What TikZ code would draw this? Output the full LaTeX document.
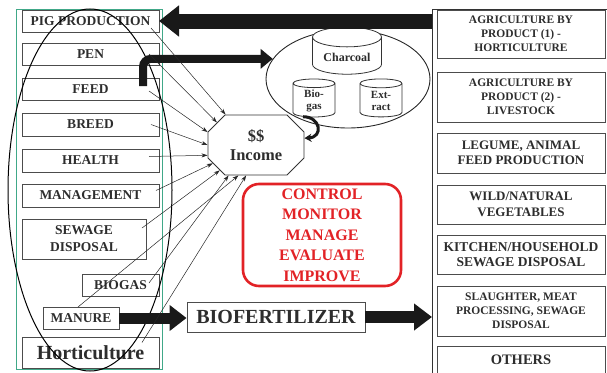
\documentclass[tikz,border=0pt]{standalone}
\usepackage{fontspec}
\setmainfont{Liberation Serif}
\usetikzlibrary{
    positioning,
    arrows.meta,
    shapes.geometric,
    shapes.misc
}

\definecolor{zonegreen}{RGB}{64,168,136}
\definecolor{alarmred}{RGB}{226,34,38}
\definecolor{labelgray}{RGB}{45,45,45}

\begin{document}
\begin{tikzpicture}[
    x=1pt, y=-1pt,
    farmbox/.style={rectangle, draw=black!70, line width=0.9pt, anchor=north west, minimum width=137pt, minimum height=22pt, inner sep=1pt, outer sep=0pt, align=center, text=labelgray, font=\fontsize{13.5}{17}\selectfont\bfseries},
    sourcebox/.style={rectangle, draw=black!70, line width=0.9pt, minimum width=168pt, inner sep=1pt, outer sep=0pt, align=center, text=labelgray, font=\fontsize{11.5}{14}\selectfont\bfseries},
    store/.style={cylinder, shape border rotate=90, draw=black!80, line width=0.8pt, fill=white, aspect=0.4, inner sep=1pt, align=center, text=labelgray, font=\fontsize{11}{12}\selectfont\bfseries},
    feeder/.style={-{Stealth[length=6pt, width=4pt]}, line width=0.5pt, draw=black!85},
    fatarrow/.style={draw=black!90}
]
\useasboundingbox (0,0) rectangle (607,372);

% frames
\node[draw=zonegreen, line width=1pt, anchor=north west, minimum width=146pt, minimum height=360pt, inner sep=0pt] (zone) at (16,9) {};
\node[draw=black!80, line width=1pt, anchor=north west, minimum width=180pt, minimum height=370pt, inner sep=0pt] (sources) at (432,9) {};

% pig farm side
\node[farmbox] (pig) at (22,10) {PIG PRODUCTION};
\node[farmbox, below=11pt of pig] (pen) {PEN};
\node[farmbox, below=13pt of pen] (feed) {FEED};
\node[farmbox, below=13pt of feed, minimum height=23pt] (breed) {BREED};
\node[farmbox, below=13pt of breed, minimum height=23pt] (health) {HEALTH};
\node[farmbox, below=12pt of health, minimum height=23pt] (mgmt) {MANAGEMENT};
\node[farmbox, minimum width=124pt, minimum height=40pt] (sewage) at (22,219) {SEWAGE\\DISPOSAL};
\node[farmbox, minimum width=77pt] (biogasbox) at (82,274) {BIOGAS};
\node[farmbox, minimum width=76pt] (manure) at (43,307) {MANURE};
\node[farmbox, minimum height=31pt, font=\fontsize{20}{22}\selectfont\bfseries] (hort) at (22,337) {Horticulture};
\node[draw, ellipse, line width=1pt, minimum width=164pt, minimum height=362pt] (cluster) at (90,190) {};

% sources side
\node[sourcebox, anchor=north west, minimum height=48pt] (src1) at (437,10) {AGRICULTURE BY\\PRODUCT (1) -\\HORTICULTURE};
\node[sourcebox, minimum height=50pt, below=14pt of src1] (src2) {AGRICULTURE BY\\PRODUCT (2) -\\LIVESTOCK};
\node[sourcebox, minimum height=40pt, below=11pt of src2, font=\fontsize{13}{15.5}\selectfont\bfseries] (src3) {LEGUME, ANIMAL\\FEED PRODUCTION};
\node[sourcebox, minimum height=39pt, below=12pt of src3, font=\fontsize{13}{15.5}\selectfont\bfseries] (src4) {WILD/NATURAL\\VEGETABLES};
\node[sourcebox, minimum height=39pt, below=11pt of src4, font=\fontsize{13.5}{15.5}\selectfont\bfseries] (src5) {KITCHEN/HOUSEHOLD\\SEWAGE DISPOSAL};
\node[sourcebox, minimum height=50pt, below=12pt of src5] (src6) {SLAUGHTER, MEAT\\PROCESSING, SEWAGE\\DISPOSAL};
\node[sourcebox, minimum height=28pt, below=10pt of src6, font=\fontsize{14.5}{16}\selectfont\bfseries] (src7) {OTHERS};

% middle
\node[draw=black!80, line width=0.9pt, chamfered rectangle, chamfered rectangle xsep=14pt, minimum width=96pt, minimum height=60pt, inner sep=1pt, align=center, text=labelgray, font=\fontsize{16.5}{19}\selectfont\bfseries] (income) at (256,145) {\$\$\\Income};
\node[draw=alarmred, text=alarmred, line width=2.6pt, rounded corners=16pt, minimum width=158pt, minimum height=102pt, inner sep=1pt, align=center, font=\fontsize{16}{20.5}\selectfont\bfseries] (control) at (322,235) {CONTROL\\MONITOR\\MANAGE\\EVALUATE\\IMPROVE};
\node[draw=black!70, line width=0.9pt, minimum width=178pt, minimum height=30pt, inner sep=1pt, text=labelgray, font=\fontsize{20}{22}\selectfont\bfseries] (biofert) at (276,317) {BIOFERTILIZER};
\node[draw=black!85, ellipse, line width=0.9pt, minimum width=164pt, minimum height=98pt] (bag) at (348,79) {};
\node[store, minimum width=69pt, minimum height=47pt, font=\fontsize{12}{13}\selectfont\bfseries] (charcoal) at (347,57) {Charcoal};
\node[store, minimum width=42pt, minimum height=38pt] (bio) at (314,101) {Bio-\\gas};
\node[store, minimum width=42pt, minimum height=38pt] (extract) at (381,101) {Ext-\\ract};

% big arrows
\draw[fatarrow, line width=15pt, -{Triangle[length=20pt, width=30pt]}] (sources.west |- pig.east) -- (pig.east);
\draw[fatarrow, line width=8pt, rounded corners=8pt, -{Triangle[length=12pt, width=19pt]}] ([xshift=-16pt, yshift=-8pt]feed.north east) |- (bag.165);
\draw[fatarrow, line width=11pt, -{Triangle[length=17pt, width=25pt]}] (manure.east) -- (manure.east -| biofert.west);
\draw[fatarrow, line width=12pt, -{Triangle[length=18pt, width=26pt]}] (biofert.east) -- (biofert.east -| sources.west);
\draw[fatarrow, line width=3pt, -{Stealth[length=7pt, width=8pt]}] (bio.-125) .. controls +(18,0) and +(19,-1) .. (income.8);

% thin feeders into income
\draw[feeder] ([xshift=-8pt, yshift=-7pt]pig.east) -- (income.135);
\draw[feeder] ([xshift=-10pt]pen.east) -- (income.150);
\draw[feeder] ([xshift=-10pt, yshift=-2pt]feed.east) -- (income.165);
\draw[feeder] ([xshift=-8pt]breed.east) -- (income.180);
\draw[feeder] ([xshift=-10pt, yshift=4pt]health.east) -- (income.192);
\draw[feeder] ([xshift=-3pt, yshift=5pt]mgmt.east) -- (income.203);
\draw[feeder] ([xshift=-4pt, yshift=11pt]sewage.east) -- (income.215);
\draw[feeder] ([xshift=-10pt, yshift=2pt]biogasbox.east) -- (income.228);
\draw[feeder] ([xshift=-3pt]manure.north) -- (income.240);
\draw[feeder] ([xshift=-17pt, yshift=10pt]hort.east) -- (income.252);
\end{tikzpicture}
\end{document}
